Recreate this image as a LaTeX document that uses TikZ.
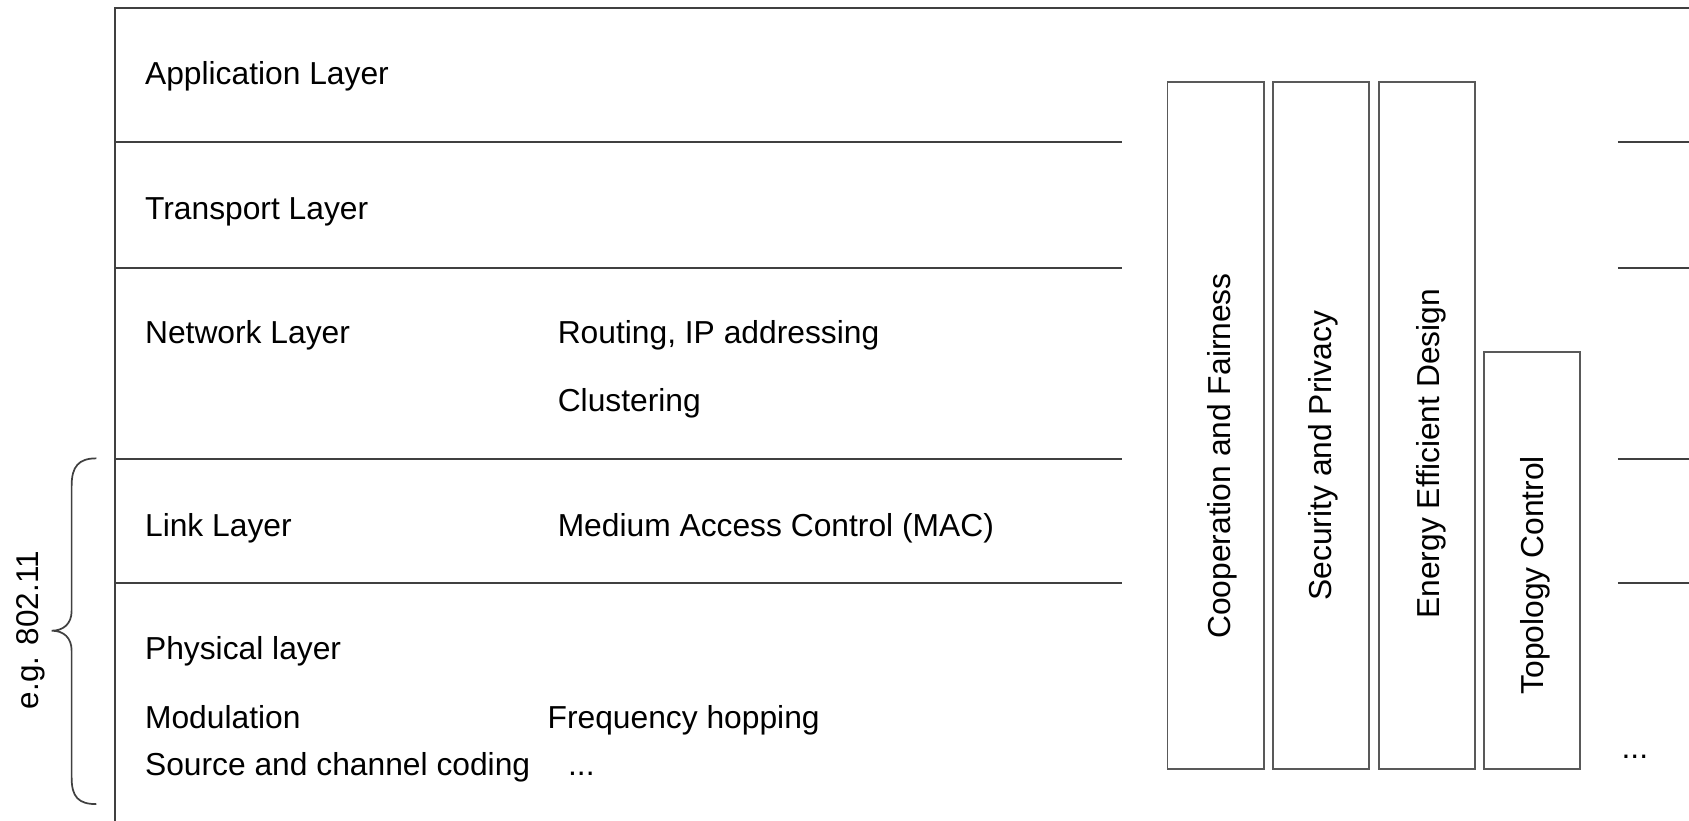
\documentclass[tikz,border=0pt]{standalone}
\usepackage{fontspec}
\setmainfont{Liberation Sans}
\begin{document}
\begin{tikzpicture}[x=0.5pt,y=-0.5pt,
  rule/.style={draw=black!75,line width=0.8pt},
  lbl/.style={inner sep=0pt,anchor=base west,font=\fontsize{14.75}{17}\selectfont},
  vlbl/.style={inner sep=0pt,anchor=base,rotate=90,font=\fontsize{14.75}{17}\selectfont},
  colbox/.style={draw=black!65,line width=0.8pt,anchor=north west,inner sep=0pt,outer sep=0pt,minimum width=44.75pt}]
\useasboundingbox (0,0) rectangle (1568,762);
% frame and layer rules
\draw[rule] (1568,7.7) -- (107,7.7) -- (107,762);
\foreach \y in {132,249,426,541.5} {
  \draw[rule] (107,\y) -- (1042,\y);
  \draw[rule] (1502,\y) -- (1568,\y);
}
% layer labels
\node[lbl] (app) at (134.3,78.9) {Application Layer};
\node[lbl] (trans) at (134.3,204.2) {Transport Layer};
\node[lbl] (net) at (134.3,318.7) {Network Layer};
\node[lbl] (routing) at (517.4,318.7) {Routing, IP addressing};
\node[lbl] (clust) at (517.4,382.2) {Clustering};
\node[lbl] (link) at (134.3,498.2) {Link Layer};
\node[lbl] (mac) at (517.4,498.2) {Medium Access Control (MAC)};
\node[lbl] (phy) at (134.3,612.7) {Physical layer};
\node[lbl] (modu) at (134.3,676.1) {Modulation};
\node[lbl] (freq) at (508,676.1) {Frequency hopping};
\node[lbl] (src) at (134.3,719.5) {Source and channel coding};
\node[lbl] (dots1) at (527,719.5) {...};
% cross-layer boxes
\node[colbox,minimum height=318.9pt] (b1) at (1083.9,75.8) {};
\node[colbox,minimum height=318.9pt] (b2) at (1181.6,75.8) {};
\node[colbox,minimum height=318.9pt] (b3) at (1279.9,75.8) {};
\node[colbox,minimum height=193.3pt] (b4) at (1377.6,327) {};
\node[vlbl] (coop) at (1142,423.3) {Cooperation and Fairness};
\node[vlbl] (sec) at (1236.5,423) {Security and Privacy};
\node[vlbl] (energy) at (1336,421.2) {Energy Efficient Design};
\node[vlbl] (topo) at (1433,534.1) {Topology Control};
\node[lbl] (dots2) at (1505,704) {...};
% brace
\coordinate (bt) at (89.5,425.5);
\coordinate (bb) at (89.5,746.5);
\coordinate (btip) at (48,585.5);
\draw[rule] (bt) .. controls (73,425.5) and (66.5,433) .. (66.5,451) -- (66.5,567)
  .. controls (66.5,579) and (59,585.5) .. (btip)
  .. controls (59,585.5) and (66.5,592) .. (66.5,604) -- (66.5,722)
  .. controls (66.5,740) and (73,746.5) .. (bb);
\node[vlbl,font=\fontsize{14.6}{17}\selectfont] (eg) at (36,585) {e.g. 802.11};
\end{tikzpicture}
\end{document}
